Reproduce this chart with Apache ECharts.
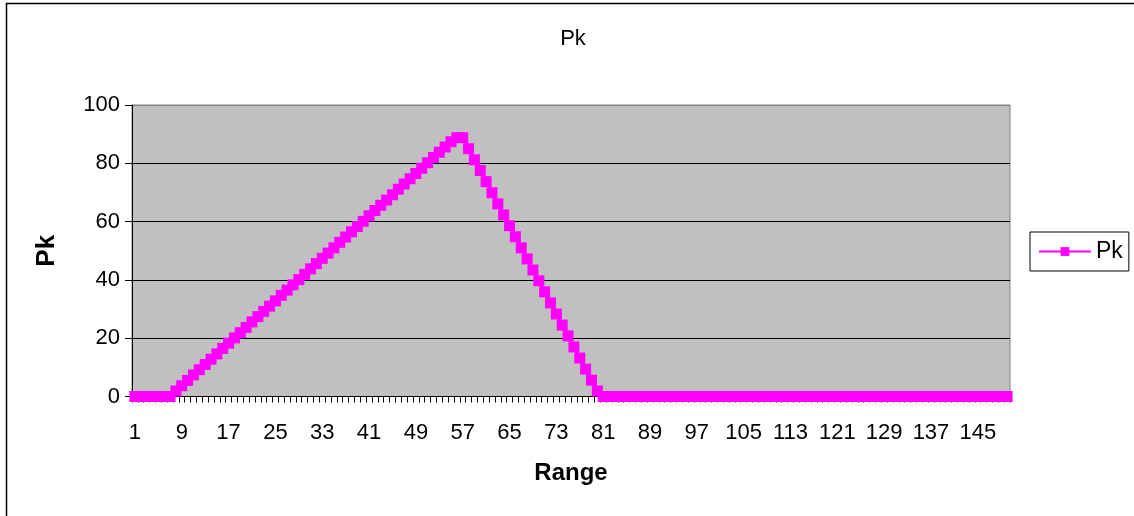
<!DOCTYPE html>
<html>
<head>
<meta charset="utf-8">
<script src="https://cdn.jsdelivr.net/npm/echarts@6/dist/echarts.min.js"></script>
<style>
html,body{margin:0;padding:0;background:#fff;}
#chart{width:1134px;height:516px;}
</style>
</head>
<body>
<div id="chart"></div>
<script>
// Categories (range 1..150)
var categories = [];
for (var c = 1; c <= 150; c++) categories.push(String(c));

// Pk values
var pkValues = [
  0, 0, 0, 0, 0, 0, 0,
  1.9, 3.7, 5.5, 7.4, 9.2, 11.0, 12.8, 14.6, 16.5, 18.3,
  20.1, 21.9, 23.7, 25.6, 27.4, 29.2, 31.0, 32.8, 34.7, 36.5,
  38.3, 40.1, 41.9, 43.8, 45.6, 47.4, 49.2, 51.0, 52.9, 54.7,
  56.5, 58.3, 60.1, 62.0, 63.8, 65.6, 67.4, 69.2, 71.1, 72.9,
  74.7, 76.5, 78.3, 80.2, 82.0, 83.8, 85.6, 87.4, 88.8, 88.8,
  85.0, 81.2, 77.5, 73.7, 69.9, 66.1, 62.3, 58.6, 54.8, 51.0,
  47.2, 43.4, 39.7, 35.9, 32.1, 28.3, 24.5, 20.8, 17.0, 13.2,
  9.4, 5.6, 1.9,
  0, 0, 0, 0, 0, 0, 0, 0, 0, 0,
  0, 0, 0, 0, 0, 0, 0, 0, 0, 0,
  0, 0, 0, 0, 0, 0, 0, 0, 0, 0,
  0, 0, 0, 0, 0, 0, 0, 0, 0, 0,
  0, 0, 0, 0, 0, 0, 0, 0, 0, 0,
  0, 0, 0, 0, 0, 0, 0, 0, 0, 0,
  0, 0, 0, 0, 0, 0, 0, 0, 0, 0
];

var yTicks = [0, 20, 40, 60, 80, 100];
var titleText = 'Pk';
var seriesName = 'Pk';
var xName = 'Range';
var yName = 'Pk';

var FONT = '"Liberation Sans", Arial, sans-serif';
var chart = echarts.init(document.getElementById('chart'), null, {renderer: 'canvas'});
chart.setOption({
  animation: false,
  backgroundColor: '#fff',
  textStyle: {fontFamily: FONT},
  graphic: [{
    type: 'rect',
    shape: {x: 6.5, y: 3.5, width: 1200, height: 600},
    style: {fill: null, stroke: '#000', lineWidth: 1.5},
    silent: true,
    z: -10
  }],
  title: {
    text: titleText,
    left: 568,
    top: 23,
    textAlign: 'center',
    textStyle: {fontFamily: FONT, fontSize: 22, fontWeight: 'normal', color: '#000'}
  },
  legend: {
    left: 1030,
    top: 232,
    orient: 'vertical',
    padding: [8, 6, 8, 8],
    borderColor: '#000',
    borderWidth: 1,
    itemWidth: 52,
    itemHeight: 11,
    itemGap: 0,
    textStyle: {fontFamily: FONT, fontSize: 23, color: '#000'},
    data: [seriesName]
  },
  grid: {
    left: 132,
    top: 105,
    width: 878,
    height: 291.5,
    show: true,
    backgroundColor: '#C0C0C0',
    borderColor: '#808080',
    borderWidth: 1,
    containLabel: false
  },
  xAxis: {
    type: 'category',
    data: categories,
    boundaryGap: true,
    name: xName,
    nameLocation: 'middle',
    nameGap: 65,
    nameTextStyle: {fontFamily: FONT, fontSize: 24, fontWeight: 'bold', color: '#000'},
    axisLine: {show: true, lineStyle: {color: '#000', width: 1}},
    axisTick: {show: true, interval: 0, length: 6, lineStyle: {color: '#000'}},
    axisLabel: {interval: 7, margin: 25, fontFamily: FONT, fontSize: 22, color: '#000'},
    splitLine: {show: false}
  },
  yAxis: {
    type: 'value',
    min: yTicks[0],
    max: yTicks[yTicks.length - 1],
    interval: 20,
    name: yName,
    nameLocation: 'middle',
    nameGap: 72,
    nameTextStyle: {fontFamily: FONT, fontSize: 26, fontWeight: 'bold', color: '#000'},
    axisLine: {show: true, lineStyle: {color: '#000', width: 1}},
    axisTick: {show: true, length: 7, lineStyle: {color: '#000'}},
    axisLabel: {margin: 12, fontFamily: FONT, fontSize: 22, color: '#000'},
    splitLine: {show: true, lineStyle: {color: ['#000', '#000', '#000', '#000', '#000', '#808080'], width: 1}}
  },
  series: [{
    name: seriesName,
    type: 'line',
    data: pkValues,
    symbol: 'rect',
    symbolSize: 11,
    showAllSymbol: true,
    color: '#FF00FF',
    lineStyle: {color: '#FF00FF', width: 2.5},
    itemStyle: {color: '#FF00FF', borderWidth: 0}
  }]
});
</script>
</body>
</html>
